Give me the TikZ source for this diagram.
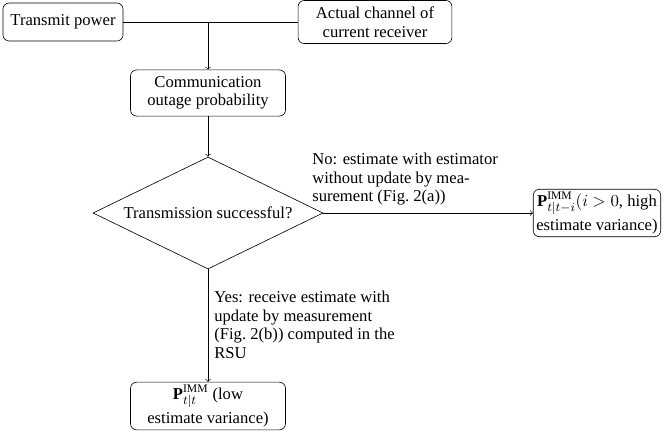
\documentclass[tikz,border=0pt]{standalone}
\usepackage{fontspec}
\setmainfont{Liberation Serif}
\usepackage{tikz}
\usetikzlibrary{calc,shapes.geometric}
\tikzset{
	flowbox/.style={draw, rounded corners=4pt, align=center, inner sep=2pt},
	decision/.style={draw, diamond, aspect=2.05, inner sep=0pt, minimum width=149.5pt, minimum height=72.8pt},
	edgetext/.style={align=left, inner sep=0pt},
	every node/.style={font=\fontsize{10.8pt}{12pt}\selectfont},
}

\begin{document}
\begin{tikzpicture}[x=0.65pt, y=-0.65pt]
			%%%%% START %%%%%
			\useasboundingbox (0, 0) rectangle (664, 433);
			
			\node[flowbox, minimum width=78pt, minimum height=24.7pt] (power) at (63, 22) {Transmit power};
			\node[flowbox, minimum width=100pt, minimum height=28pt] (channel) at (375, 22) {Actual channel of\\current receiver};
			\node[flowbox, minimum width=100.75pt, minimum height=30pt] (outage) at (208, 93) {Communication\\outage probability};
			
			\node[decision] (success) at (208, 213) {Transmission successful?};
			
			\node[flowbox, minimum height=30.5pt, anchor=east] (highvar) at (661, 213) {$\mathbf{P}^{\mathrm{IMM}}_{t|t-i}(i>0$, high\\[1.5pt]estimate variance)};
			\node[flowbox, minimum width=100.75pt, minimum height=31pt] (lowvar) at (208, 406) {$\mathbf{P}^{\mathrm{IMM}}_{t|t}$ (low\\[1.5pt]estimate variance)};
			
			\draw (power.east) -- (power.east -| channel.west);
			\draw[->] (power.east -| outage.north) -- (outage.north);
			\draw[->] (outage) -- (success);
			\draw[->] (success) -- (highvar);
			\draw[->] (success) -- (lowvar);
			
			\node[edgetext, anchor=north west] (nolabel) at (312, 153) {No: estimate with estimator\\without update by mea-\\surement (Fig.~2(a))};
			\node[edgetext, anchor=north west] (yeslabel) at (214, 291) {Yes: receive estimate with\\update by measurement\\(Fig.~2(b)) computed in the\\RSU};
			
			%%%%% END %%%%%
\end{tikzpicture}
\end{document}
